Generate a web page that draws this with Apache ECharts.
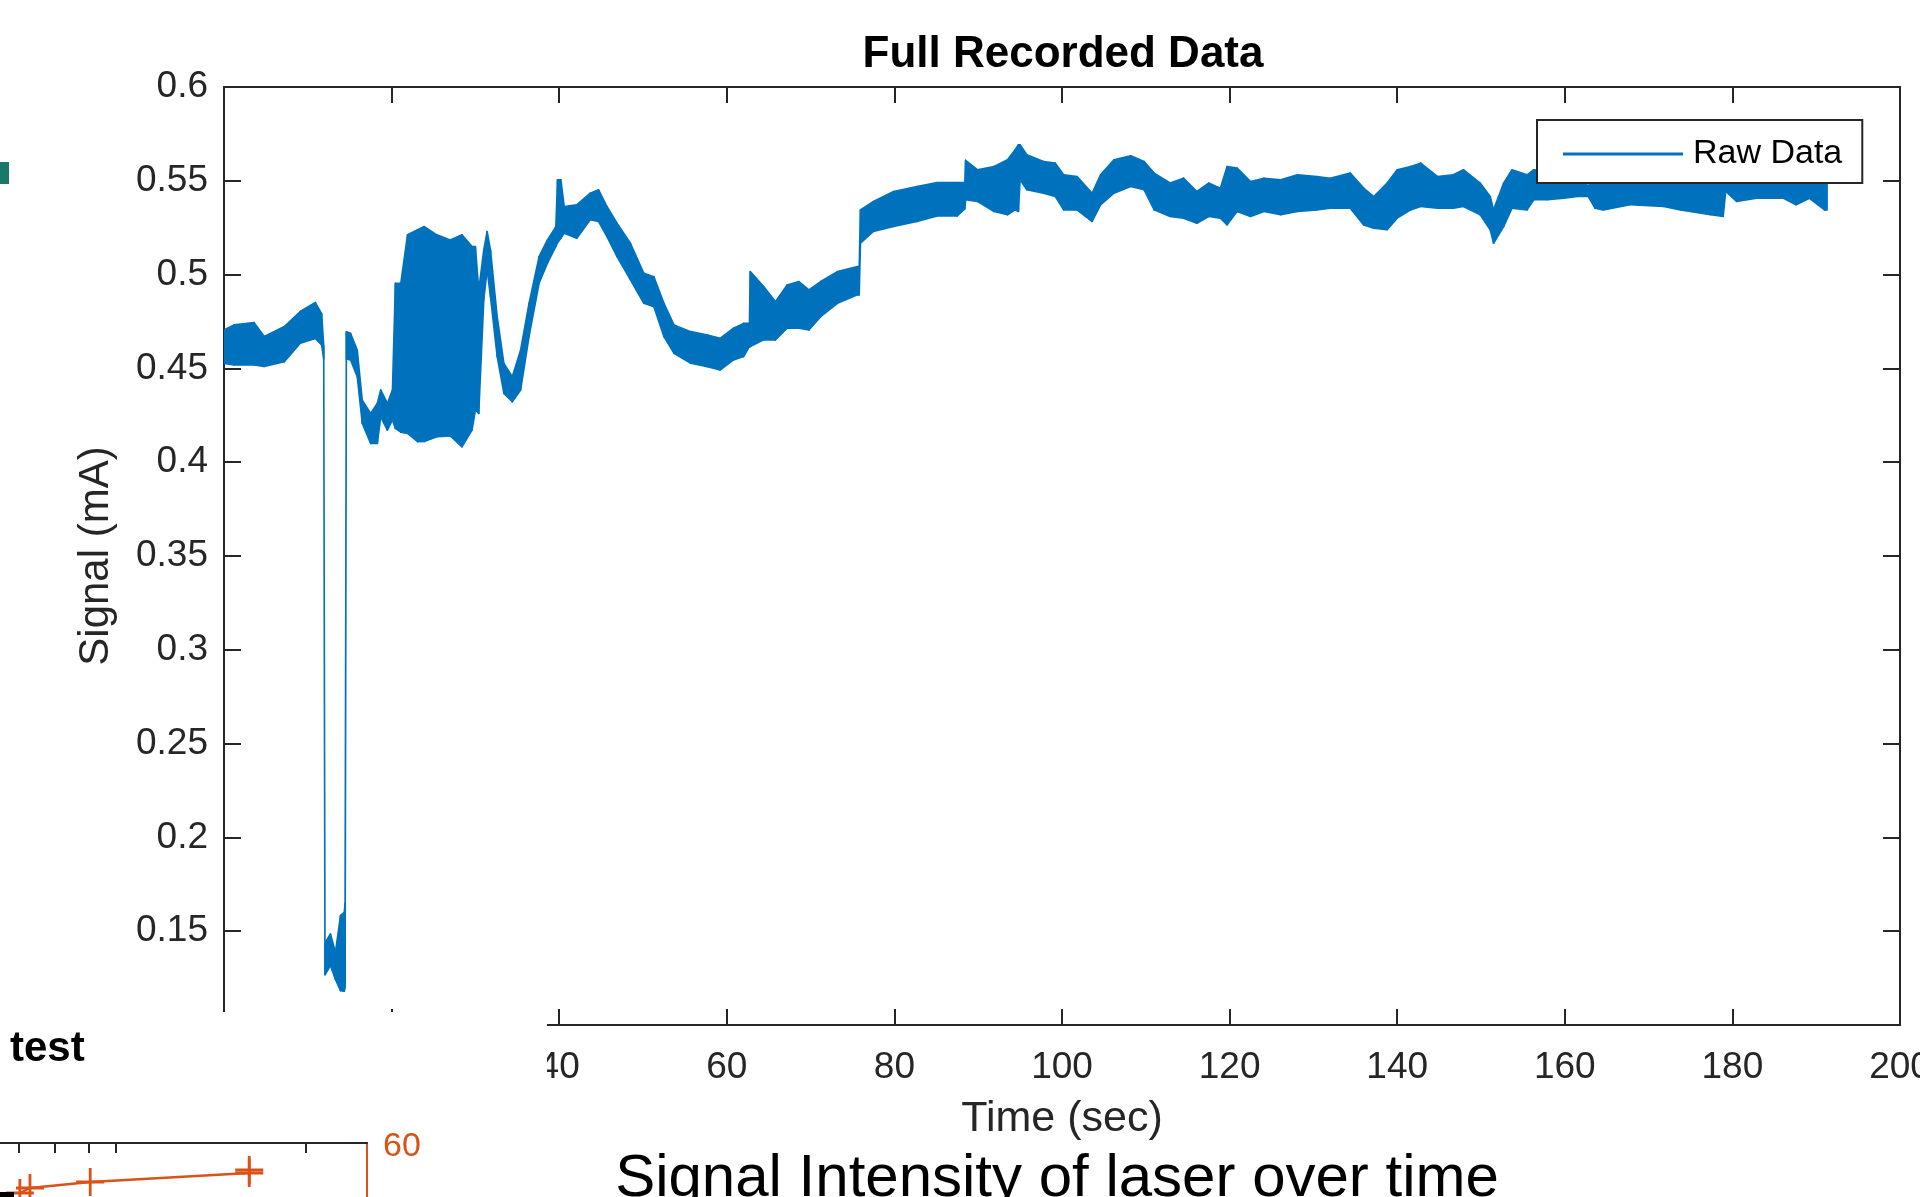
<!DOCTYPE html>
<html>
<head>
<meta charset="utf-8">
<title>Full Recorded Data</title>
<script src="https://cdn.jsdelivr.net/npm/echarts/dist/echarts.min.js"></script>
<style>
    html, body { margin: 0; padding: 0; background: #fff; }
    #chart { width: 1920px; height: 1197px; }
</style>
</head>
<body>
<div id="chart"></div>
<script>
// time (sec) with the lower / upper edge of the noisy raw signal band (mA)
var times = [0, 1.2, 3.6, 4.8, 7.2, 9.1, 10.9, 11.65, 11.9, 12.05, 12.7, 13.3, 13.9, 14.35, 14.45, 14.6,
    15.1, 15.9, 16.5, 17.5, 18.3, 18.7, 19.5, 20.1, 20.45, 21.1, 21.9, 23.1, 23.9, 25.4, 27.0, 28.4, 29.6,
    30.0, 30.4, 31.0, 31.4, 31.8, 32.6, 33.4, 34.4, 35.4, 36.4, 37.6, 38.6, 39.6, 39.8, 40.2, 40.6, 42.1,
    43.7, 44.7, 45.7, 46.9, 48.5, 50.1, 51.3, 52.5, 53.7, 55.7, 57.7, 59.2, 60.8, 62.0, 62.7, 62.8, 64.4,
    65.8, 67.2, 68.6, 69.8, 71.2, 73.2, 75.6, 75.8, 75.95, 77.5, 79.9, 82.7, 85.1, 87.5, 88.4, 88.5, 89.9,
    91.9, 93.5, 94.4, 94.8, 95.0, 95.8, 97.8, 99.2, 100.2, 101.8, 103.6, 104.6, 106.2, 108.2, 109.8, 111.0,
    112.9, 114.5, 116.1, 117.5, 118.9, 119.7, 120.9, 122.5, 124.1, 126.1, 128.1, 130.4, 132.0, 134.4, 136.0,
    137.2, 138.8, 140.0, 141.6, 142.8, 144.8, 146.7, 147.9, 149.9, 151.1, 151.5, 152.7, 153.7, 155.5, 156.3,
    157.9, 159.9, 161.5, 162.8, 163.6, 164.6, 167.8, 171.8, 173.8, 177.4, 178.9, 179.2, 180.5, 182.9, 186.1,
    187.6, 189.2, 191.0, 191.3];
var lowerEnv = [.4527, .4518, .4518, .451, .4536, .4634, .466, .4625, .455, .1268, .1317, .1243, .1183, .118, .12, .455,
    .4545, .4456, .4207, .41, .41, .4242, .4171, .4225, .418, .416, .4153, .4109, .411, .4136, .414, .4082, .4171,
    .4278, .426, .4865, .5025, .4883, .4563, .4367, .4322, .4385, .4669, .4954, .5061, .515, .517, .5194, .5221, .5194,
    .5292, .5283, .5203, .5096, .4972, .4847, .4829, .4669, .458, .4527, .4509, .4491, .4545, .4563, .4616, .4616, .4652,
    .4652, .4714, .4714, .4705, .4776, .4847, .4892, .4892, .5167, .523, .5256, .5283, .5313, .5313, .535, .5399, .539,
    .5336, .5319, .5345, .5336, .5505, .5452, .5434, .5416, .5345, .5345, .5283, .5372, .5434, .547, .5452, .5345,
    .531, .5301, .5274, .531, .5301, .5265, .5336, .531, .5336, .5319, .5336, .5345, .5354, .5354, .5265,
    .5247, .5239, .5301, .5345, .5363, .5354, .5354, .5363, .5319, .5239, .5167, .5256, .5354, .5345, .5399,
    .5399, .5407, .5416, .5416, .5354, .5345, .5372, .5363, .5345, .5319, .531, .5443, .539, .5407, .5407,
    .5372, .5407, .5345, .5345];
var upperEnv = [.4705, .4732, .4744, .467, .4723, .4803, .4851, .4792, .462, .1437, .1485, .1388, .1583, .16, .165, .4695,
    .4687, .4598, .4331, .426, .4314, .4385, .4314, .4385, .4954, .4954, .5212, .5239, .5256, .5212, .5185, .5212, .515,
    .515, .4918, .5132, .523, .5132, .4776, .4527, .4456, .4598, .4847, .5096, .5185, .5256, .5505, .5505, .5363, .5372,
    .5434, .5452, .5363, .5274, .5167, .5007, .4989, .4847, .4732, .4696, .4678, .466, .4714, .474, .474, .5016, .4936,
    .4856, .4945, .4963, .4918, .4963, .5016, .5043, .5043, .5345, .539, .5443, .547, .5491, .5491, .5491, .5609, .5559,
    .5576, .5612, .5665, .5692, .5692, .5639, .5603, .5594, .5532, .5523, .5434, .5532, .5612, .5633, .5603, .5541,
    .5488, .5514, .5443, .5488, .5461, .5576, .5568, .5496, .5514, .5505, .5532, .5523, .5514, .5541, .5461,
    .5416, .5488, .5559, .5576, .5594, .5523, .5532, .5559, .5488, .5416, .5345, .5488, .5559, .5532, .5559,
    .5555, .555, .5545, .547, .554, .5555, .556, .5555, .556, .555, .5545, .5565, .556, .5555, .556,
    .5555, .5555, .555, .552];

// fragment of the neighbouring "test" figure (bottom left)
var testX = [0.65, 0.98, 2.95, 8.15, 8.15];
var testY = [55.0, 55.5, 56.1, 57.0, 57.3];
var testTicks = [0.6, 1.8, 2.9, 3.8, 10];

var FONT = '"Liberation Sans", Arial, Helvetica, sans-serif';
var AXIS_COLOR = '#262626';
var BLUE = '#0072BD';
var ORANGE = '#D95319';

var chart = initChart();

function initChart() {
    var chart = echarts.init(document.getElementById('chart'), null, { renderer: 'canvas' });

    // one quad per pair of neighbouring samples: [t0, lo0, hi0, t1, lo1, hi1]
    var bandSegments = [];
    for (var i = 0; i < times.length - 1; i++) {
        bandSegments.push([times[i], lowerEnv[i], upperEnv[i], times[i + 1], lowerEnv[i + 1], upperEnv[i + 1]]);
    }
    var testData = [];
    for (var j = 0; j < testX.length; j++) {
        testData.push([testX[j], testY[j]]);
    }

    var plusSymbol = 'path://M4.5,0h1v4.5h4.5v1h-4.5v4.5h-1v-4.5h-4.5v-1h4.5z';

    var option = {
        animation: false,
        backgroundColor: '#fff',
        textStyle: { fontFamily: FONT },
        title: {
            text: 'Full Recorded Data',
            left: 1063,
            top: 33,
            padding: 0,
            textAlign: 'center',
            textStyle: { fontFamily: FONT, fontSize: 44, fontWeight: 'bold', color: '#000' }
        },
        legend: {
            data: [{ name: 'Raw Data', icon: 'rect' }],
            left: 1537,
            top: 120,
            padding: [17, 20, 12, 26],
            itemWidth: 120,
            itemHeight: 3,
            backgroundColor: '#fff',
            borderColor: AXIS_COLOR,
            borderWidth: 2,
            borderRadius: 0,
            textStyle: { fontFamily: FONT, fontSize: 34, color: '#000', padding: [0, 0, 0, 5] },
            z: 20
        },
        grid: [
            { left: 224, right: 20, top: 87, bottom: 172, outerBoundsMode: 'none', containLabel: false },
            { left: 0, width: 367, top: 1143, height: 200, outerBoundsMode: 'none', containLabel: false }
        ],
        xAxis: [
            {
                gridIndex: 0, type: 'value', position: 'bottom', min: 0, max: 200, interval: 20,
                name: 'Time (sec)', nameLocation: 'middle', nameGap: 73,
                nameTextStyle: { fontFamily: FONT, fontSize: 43, color: AXIS_COLOR },
                axisLine: { show: true, onZero: false, lineStyle: { color: AXIS_COLOR, width: 2 } },
                axisTick: { show: true, inside: true, length: 16, lineStyle: { color: AXIS_COLOR, width: 2 } },
                axisLabel: { show: true, margin: 24, fontFamily: FONT, fontSize: 37, color: AXIS_COLOR },
                splitLine: { show: false }
            },
            {
                gridIndex: 0, type: 'value', position: 'top', min: 0, max: 200, interval: 20,
                axisLine: { show: true, onZero: false, lineStyle: { color: AXIS_COLOR, width: 2 } },
                axisTick: { show: true, inside: true, length: 16, lineStyle: { color: AXIS_COLOR, width: 2 } },
                axisLabel: { show: false },
                splitLine: { show: false }
            },
            {
                gridIndex: 1, type: 'value', position: 'top', min: 0, max: 12, z: 60,
                axisLine: { show: true, onZero: false, lineStyle: { color: AXIS_COLOR, width: 2 } },
                axisTick: { show: true, inside: true, length: 10, customValues: testTicks,
                    lineStyle: { color: AXIS_COLOR, width: 2 } },
                axisLabel: { show: false },
                splitLine: { show: false }
            }
        ],
        yAxis: [
            {
                gridIndex: 0, type: 'value', position: 'left', min: 0.1, max: 0.6, interval: 0.05,
                name: 'Signal (mA)', nameLocation: 'middle', nameGap: 107,
                nameTextStyle: { fontFamily: FONT, fontSize: 42, color: AXIS_COLOR },
                axisLine: { show: true, onZero: false, lineStyle: { color: AXIS_COLOR, width: 2 } },
                axisTick: { show: true, inside: true, length: 17, lineStyle: { color: AXIS_COLOR, width: 2 } },
                axisLabel: { show: true, margin: 16, showMinLabel: false, fontFamily: FONT, fontSize: 37, color: AXIS_COLOR },
                splitLine: { show: false }
            },
            {
                gridIndex: 0, type: 'value', position: 'right', min: 0.1, max: 0.6, interval: 0.05,
                axisLine: { show: true, onZero: false, lineStyle: { color: AXIS_COLOR, width: 2 } },
                axisTick: { show: true, inside: true, length: 17, lineStyle: { color: AXIS_COLOR, width: 2 } },
                axisLabel: { show: false },
                splitLine: { show: false }
            },
            {
                gridIndex: 1, type: 'value', position: 'right', min: 40, max: 60, interval: 10, z: 60,
                axisLine: { show: true, onZero: false, lineStyle: { color: ORANGE, width: 2 } },
                axisTick: { show: false },
                axisLabel: { show: true, margin: 16, verticalAlign: 'top', lineHeight: 8,
                    fontFamily: FONT, fontSize: 34, color: ORANGE },
                splitLine: { show: false }
            }
        ],
        series: [
            {
                name: 'Raw Data',
                type: 'custom',
                xAxisIndex: 0, yAxisIndex: 0,
                data: bandSegments,
                encode: { x: [0, 3], y: [1, 2, 4, 5] },
                clip: true,
                itemStyle: { color: BLUE },
                renderItem: function (params, api) {
                    var p1 = api.coord([api.value(0), api.value(2)]);
                    var p2 = api.coord([api.value(3), api.value(5)]);
                    var p3 = api.coord([api.value(3), api.value(4)]);
                    var p4 = api.coord([api.value(0), api.value(1)]);
                    return {
                        type: 'polygon',
                        shape: { points: [p1, p2, p3, p4] },
                        style: { fill: BLUE, stroke: BLUE, lineWidth: 1.6, lineJoin: 'round' }
                    };
                }
            },
            {
                name: 'test',
                type: 'line',
                xAxisIndex: 2, yAxisIndex: 2,
                data: testData,
                z: 60,
                symbol: plusSymbol,
                symbolSize: 28,
                lineStyle: { color: ORANGE, width: 2.5 },
                itemStyle: { color: ORANGE }
            }
        ],
        graphic: [
            {
                type: 'rect', z: 50,
                shape: { x: 0, y: 1012, width: 547, height: 185 },
                style: { fill: '#fff' }
            },
            {
                type: 'rect', z: 50,
                shape: { x: 0, y: 162, width: 9, height: 22 },
                style: { fill: '#1a7868' }
            },
            {
                type: 'rect', z: 70,
                shape: { x: 0, y: 1192, width: 14, height: 5 },
                style: { fill: '#000' }
            },
            {
                type: 'text', z: 70, x: 10, y: 1049,
                style: { text: 'test', fill: '#000', font: 'bold 42px ' + FONT, verticalAlign: 'middle' }
            },
            {
                type: 'text', z: 70, x: 1057, y: 1179,
                style: { text: 'Signal Intensity of laser over time', fill: '#000', font: '60px ' + FONT,
                    align: 'center', verticalAlign: 'middle' }
            }
        ]
    };
    chart.setOption(option);
    return chart;
}
</script>
</body>
</html>
